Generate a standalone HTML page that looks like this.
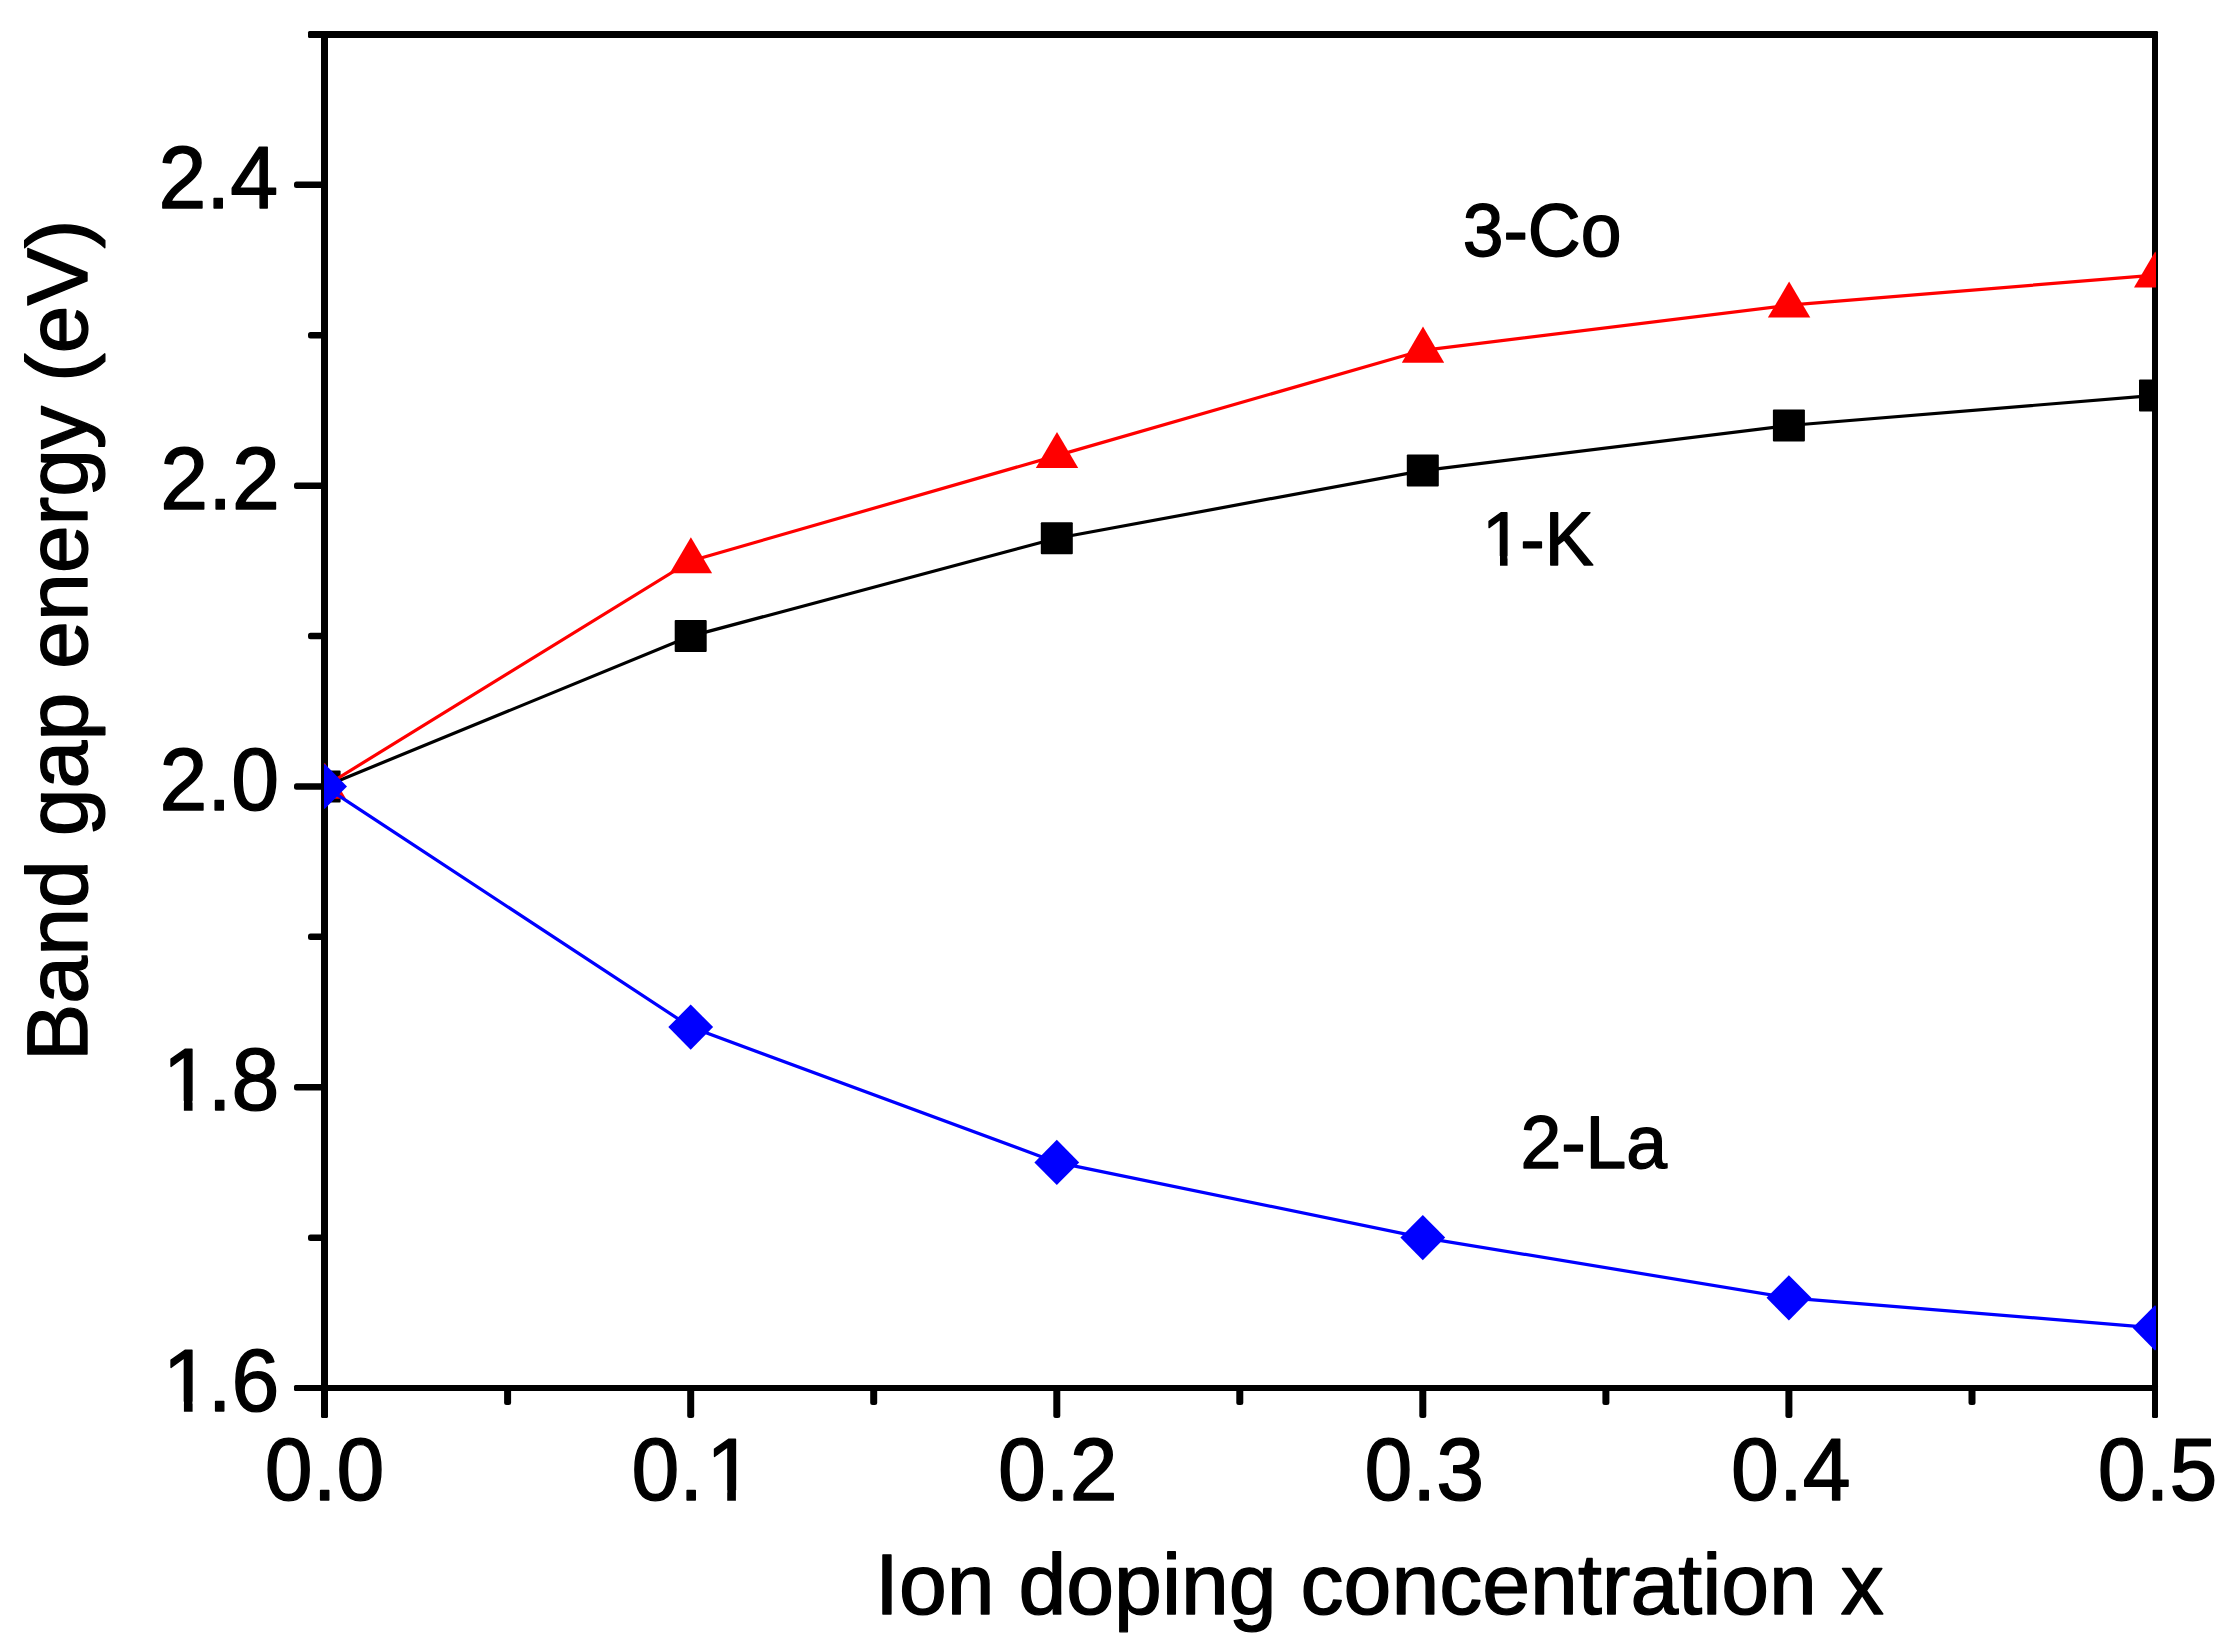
<!DOCTYPE html>
<html lang="en"><head><meta charset="utf-8"><title>Band gap energy vs ion doping concentration</title>
<style>html,body{margin:0;padding:0;background:#fff;overflow:hidden}svg{display:block}text{font-family:"Liberation Sans",Arial,sans-serif;fill:#000;stroke:#000;stroke-width:1.4px;stroke-linejoin:round;font-kerning:none;font-variant-ligatures:none;text-rendering:geometricPrecision}</style></head><body>
<svg width="2233" height="1648" viewBox="0 0 2233 1648">
<rect x="0" y="0" width="2233" height="1648" fill="#fff"/>
<defs><clipPath id="pc"><rect x="324" y="34" width="1832" height="1354"/></clipPath></defs>
<g fill="#000">
<rect x="321" y="31" width="7" height="1387" rx="1.5"/>
<rect x="2152" y="31" width="6" height="1387" rx="1.5"/>
<rect x="308" y="31" width="1850" height="7" rx="1.5"/>
<rect x="294" y="1385" width="1864" height="6" rx="1.5"/>
<rect x="308" y="1234.4" width="17" height="6.5" rx="2.5"/>
<rect x="294" y="1084.0" width="31" height="6.5" rx="2.5"/>
<rect x="308" y="933.6" width="17" height="6.5" rx="2.5"/>
<rect x="294" y="783.2" width="31" height="6.5" rx="2.5"/>
<rect x="308" y="632.8" width="17" height="6.5" rx="2.5"/>
<rect x="294" y="482.4" width="31" height="6.5" rx="2.5"/>
<rect x="308" y="332.0" width="17" height="6.5" rx="2.5"/>
<rect x="294" y="181.6" width="31" height="6.5" rx="2.5"/>
<rect x="504.1" y="1386" width="7" height="19" rx="2.5"/>
<rect x="687.2" y="1386" width="7" height="32" rx="2.5"/>
<rect x="870.2" y="1386" width="7" height="19" rx="2.5"/>
<rect x="1053.3" y="1386" width="7" height="32" rx="2.5"/>
<rect x="1236.3" y="1386" width="7" height="19" rx="2.5"/>
<rect x="1419.3" y="1386" width="7" height="32" rx="2.5"/>
<rect x="1602.4" y="1386" width="7" height="19" rx="2.5"/>
<rect x="1785.4" y="1386" width="7" height="32" rx="2.5"/>
<rect x="1968.5" y="1386" width="7" height="19" rx="2.5"/>
</g>
<g clip-path="url(#pc)">
<polyline fill="none" stroke="#000" stroke-width="3.2" points="324.6,786.4 690.7,636.1 1056.8,538.3 1422.8,470.6 1788.9,425.5 2155.0,395.4"/>
<rect x="308.6" y="770.4" width="32" height="32" rx="1" fill="#000"/>
<rect x="674.7" y="620.1" width="32" height="32" rx="1" fill="#000"/>
<rect x="1040.8" y="522.3" width="32" height="32" rx="1" fill="#000"/>
<rect x="1406.8" y="454.6" width="32" height="32" rx="1" fill="#000"/>
<rect x="1772.9" y="409.5" width="32" height="32" rx="1" fill="#000"/>
<rect x="2139.0" y="379.4" width="32" height="32" rx="1" fill="#000"/>
<polyline fill="none" stroke="#f00" stroke-width="3.2" points="324.6,786.4 690.7,560.9 1056.8,455.6 1422.8,350.3 1788.9,305.2 2155.0,275.1"/>
<polygon fill="#f00" points="324.8,762.7 303.6,798.8 346.0,798.8"/>
<polygon fill="#f00" points="690.9,537.2 669.7,573.3 712.1,573.3"/>
<polygon fill="#f00" points="1057.0,431.9 1035.8,468.0 1078.2,468.0"/>
<polygon fill="#f00" points="1423.0,326.6 1401.8,362.7 1444.2,362.7"/>
<polygon fill="#f00" points="1789.1,281.5 1767.9,317.6 1810.3,317.6"/>
<polygon fill="#f00" points="2155.2,251.4 2134.0,287.5 2176.4,287.5"/>
<polyline fill="none" stroke="#00f" stroke-width="3.2" points="324.6,786.4 690.7,1027.1 1056.8,1162.4 1422.8,1237.6 1788.9,1297.8 2155.0,1327.8"/>
<polygon fill="#00f" points="324.6,763.8 347.0,786.4 324.6,809.0 302.2,786.4"/>
<polygon fill="#00f" points="690.7,1004.5 713.1,1027.1 690.7,1049.7 668.3,1027.1"/>
<polygon fill="#00f" points="1056.8,1139.8 1079.2,1162.4 1056.8,1185.0 1034.4,1162.4"/>
<polygon fill="#00f" points="1422.8,1215.0 1445.2,1237.6 1422.8,1260.2 1400.4,1237.6"/>
<polygon fill="#00f" points="1788.9,1275.2 1811.3,1297.8 1788.9,1320.4 1766.5,1297.8"/>
<polygon fill="#00f" points="2155.0,1305.2 2177.4,1327.8 2155.0,1350.4 2132.6,1327.8"/>
</g>
<g font-size="86">
<text transform="translate(159.83,1411.2) scale(1,1.027)" dx="3 -3">1.6</text>
<rect x="166.38" y="1401.60" width="17.53" height="12.60" fill="#fff"/>
<rect x="192.60" y="1401.60" width="16.85" height="12.60" fill="#fff"/>
<text transform="translate(159.79,1110.4) scale(1,1.027)" dx="3 -3">1.8</text>
<rect x="166.34" y="1100.82" width="17.53" height="12.60" fill="#fff"/>
<rect x="192.56" y="1100.82" width="16.85" height="12.60" fill="#fff"/>
<text transform="translate(279.0,809.6) scale(1,1.027)" text-anchor="end">2.0</text>
<text transform="translate(279.9,508.9) scale(1,1.027)" text-anchor="end">2.2</text>
<text transform="translate(278.1,208.1) scale(1,1.027)" text-anchor="end">2.4</text>
<text transform="translate(324.6,1499.7) scale(1,1.027)" text-anchor="middle">0.0</text>
<text transform="translate(631.4,1499.7) scale(1,1.027)" dx="0 0 3">0.1</text>
<rect x="709.68" y="1490.10" width="17.53" height="12.60" fill="#fff"/>
<rect x="735.90" y="1490.10" width="16.85" height="12.60" fill="#fff"/>
<text transform="translate(1057.8,1499.7) scale(1,1.027)" text-anchor="middle">0.2</text>
<text transform="translate(1424.3,1499.7) scale(1,1.027)" text-anchor="middle">0.3</text>
<text transform="translate(1790.9,1499.7) scale(1,1.027)" text-anchor="middle">0.4</text>
<text transform="translate(2157.5,1499.7) scale(1,1.027)" text-anchor="middle">0.5</text>
<text x="875" y="1613.7">Ion doping concentration x</text>
<text transform="translate(87,1061) rotate(-90)">Band gap energy (eV)</text>
</g>
<g font-size="73.3">
<text transform="translate(1462.7,256.1) scale(1,1.02)">3-Co</text>
<text transform="translate(1479.6,564.6) scale(1,1.035)" dx="2.5 -2.5">1-K</text>
<rect x="1484.68" y="555.93" width="15.30" height="11.67" fill="#fff"/>
<rect x="1507.56" y="555.93" width="14.73" height="11.67" fill="#fff"/>
<text transform="translate(1520.4,1167.5) scale(1,1.02)">2-La</text>
</g>
</svg></body></html>
